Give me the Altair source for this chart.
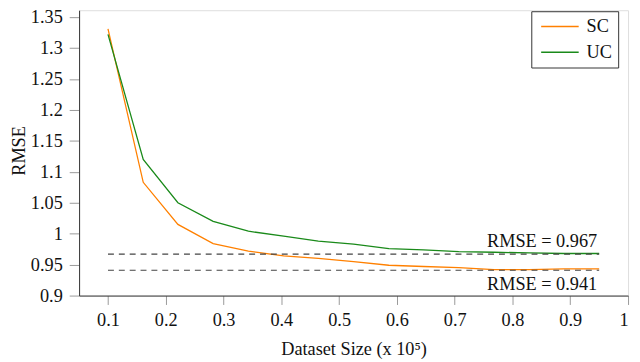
import altair as alt
import pandas as pd

# ---- data ----
dataset_size = [0.1, 0.161, 0.221, 0.282, 0.343, 0.404, 0.464, 0.525,
                0.586, 0.646, 0.707, 0.768, 0.829, 0.889, 0.95]
rmse_sc = [1.331, 1.083, 1.015, 0.984, 0.972, 0.964, 0.960, 0.955,
           0.949, 0.947, 0.945, 0.942, 0.942, 0.943, 0.943]
rmse_uc = [1.322, 1.120, 1.050, 1.020, 1.004, 0.996, 0.988, 0.983,
           0.976, 0.974, 0.971, 0.970, 0.969, 0.968, 0.968]
series_names = ["SC", "UC"]
series_colors = ["#ff8000", "#1a8a1a"]

ref_values = [0.967, 0.941]
ref_labels = ["RMSE = 0.967", "RMSE = 0.941"]
ref_x_start = [0.1, 0.1]
ref_x_end = [0.95, 0.95]

x_ticks = [0.1, 0.2, 0.3, 0.4, 0.5, 0.6, 0.7, 0.8, 0.9, 1.0]
y_ticks = [0.9, 0.95, 1.0, 1.05, 1.1, 1.15, 1.2, 1.25, 1.3, 1.35]

FONT = "'Liberation Serif', 'DejaVu Serif', serif"
FS = 18.5

rows = []
for name, vals in zip(series_names, [rmse_sc, rmse_uc]):
    for xv, yv in zip(dataset_size, vals):
        rows.append({"size": xv, "rmse": yv, "series": name})
df = pd.DataFrame(rows)

ref_df = pd.DataFrame({
    "y": ref_values, "x": ref_x_start, "x2": ref_x_end,
    "label": ref_labels, "idx": [0, 1],
})

x_scale = alt.Scale(domain=[0.05, 1.0], nice=False, zero=False)
y_scale = alt.Scale(domain=[0.9, 1.361], nice=False, zero=False)

x_axis = alt.Axis(
    values=x_ticks, tickCount=len(x_ticks) + 2, format=".1~f", grid=False,
    labelOverlap=False,
    tickColor="#999", tickSize=9, tickWidth=1, labelPadding=6,
    labelFont=FONT, labelFontSize=FS, labelColor="#111",
    domainColor="#333", domainWidth=1,
    title="Dataset Size (x 10⁵)", titleFont=FONT, titleFontSize=FS,
    titleFontWeight="normal", titleColor="#111",
    titleX=278, titleY=60, titleBaseline="alphabetic",
)
y_axis = alt.Axis(
    values=y_ticks, tickCount=len(y_ticks) + 2, format=".2~f", grid=False,
    labelOverlap=False,
    tickColor="#999", tickSize=10, tickWidth=1, labelPadding=7,
    labelFont=FONT, labelFontSize=FS, labelColor="#111",
    domainColor="#333", domainWidth=1,
    title="RMSE", titleFont=FONT, titleFontSize=FS,
    titleFontWeight="normal", titleColor="#111",
    titleX=-55, titleY=142, titleBaseline="alphabetic",
)

lines = alt.Chart(df).mark_line(strokeWidth=1.3, clip=True).encode(
    x=alt.X("size:Q", scale=x_scale, axis=x_axis),
    y=alt.Y("rmse:Q", scale=y_scale, axis=y_axis),
    color=alt.Color(
        "series:N",
        scale=alt.Scale(domain=series_names, range=series_colors),
        legend=alt.Legend(
            title=None, orient="none", legendX=458, legendY=1,
            symbolType="stroke", symbolSize=1444, symbolStrokeWidth=1.4,
            clipHeight=19, rowPadding=7, padding=6, symbolOffset=3,
            labelOffset=7, labelFont=FONT, labelFontSize=FS,
            labelColor="#111", strokeColor="#333", fillColor="white",
        ),
    ),
)

rules = alt.Chart(ref_df).mark_rule(
    strokeDash=[6, 5], color="#444", strokeWidth=1.1
).encode(
    x=alt.X("x:Q", scale=x_scale),
    x2="x2:Q",
    y=alt.Y("y:Q", scale=y_scale),
)

text_above = alt.Chart(ref_df).transform_filter("datum.idx == 0").mark_text(
    align="right", baseline="alphabetic", dx=-2, dy=-7,
    font=FONT, fontSize=FS, color="#111",
).encode(
    x=alt.X("x2:Q", scale=x_scale),
    y=alt.Y("y:Q", scale=y_scale),
    text="label:N",
)

text_below = alt.Chart(ref_df).transform_filter("datum.idx == 1").mark_text(
    align="right", baseline="alphabetic", dx=-2, dy=20,
    font=FONT, fontSize=FS, color="#111",
).encode(
    x=alt.X("x2:Q", scale=x_scale),
    y=alt.Y("y:Q", scale=y_scale),
    text="label:N",
)

chart = alt.layer(lines, rules, text_above, text_below).properties(
    width=556, height=289,
    padding={"left": 72, "top": 0, "right": 4, "bottom": 65},
    autosize=alt.AutoSizeParams(type="none"),
).configure_view(
    stroke="#999", strokeWidth=1
).configure_axis(
    labelFont=FONT, titleFont=FONT, labelFontSize=FS, titleFontSize=FS,
    labelColor="#111", titleColor="#111", titleFontWeight="normal",
).configure_legend(
    labelFont=FONT, labelFontSize=FS, labelColor="#111",
).configure_text(
    font=FONT,
).configure(background="white", font=FONT)

chart.save("out.html", embed_options={"renderer": "svg", "actions": False})
